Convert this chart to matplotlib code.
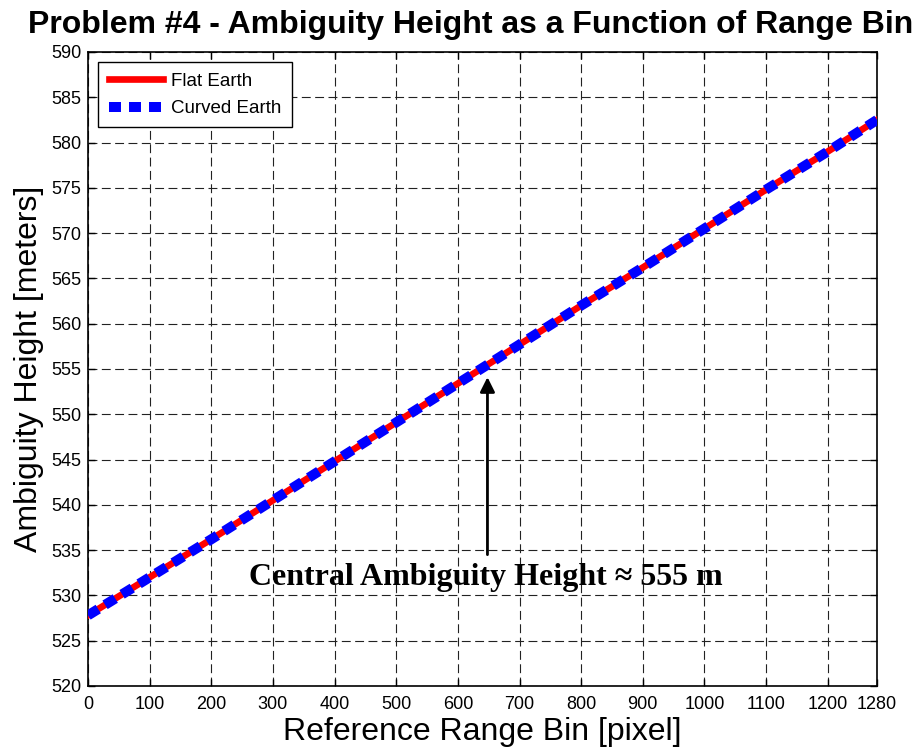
import numpy as np
import matplotlib
matplotlib.use('Agg')
import matplotlib.pyplot as plt

# values
range_bin = [0, 100, 200, 300, 400, 500, 600, 700, 800, 900, 1000, 1100, 1200, 1280]
flat_earth = [527.8, 532.0, 536.2, 540.5, 544.8, 549.1, 553.4, 557.7, 562.0, 566.2, 570.5, 574.8, 579.0, 582.5]
curved_earth = [527.8, 532.0, 536.2, 540.5, 544.8, 549.1, 553.4, 557.7, 562.0, 566.2, 570.5, 574.8, 579.0, 582.5]
x_ticks = [0, 100, 200, 300, 400, 500, 600, 700, 800, 900, 1000, 1100, 1200, 1280]
y_ticks = list(range(520, 591, 5))

central_bin = 648
central_height = 554.1
arrow_tail = 534.5
label_height = 531.1

plt.rcParams['font.family'] = ['Liberation Sans', 'DejaVu Sans']

fig = plt.figure(figsize=(9.19, 7.53), dpi=100)
ax = fig.add_axes([0.0958, 0.089, 0.8585, 0.842])

ax.plot(range_bin, flat_earth, color='red', lw=4.8, label='Flat Earth', zorder=3)
ax.plot(range_bin, curved_earth, color='blue', lw=7.2, linestyle=(0, (1.2, 0.8)),
        dash_capstyle='butt', label='Curved Earth', zorder=4)

ax.set_xlim(0, 1280)
ax.set_ylim(520, 590)
ax.set_xticks(x_ticks)
ax.set_yticks(y_ticks)
ax.tick_params(direction='in', top=True, right=True, labelsize=13, length=5, width=1)
ax.tick_params(axis='x', pad=7)
ax.tick_params(axis='y', pad=5)
ax.grid(True, color='#222222', linestyle=(0, (8, 4)), linewidth=0.8)
for s in ax.spines.values():
    s.set_linewidth(1.2)

ax.set_title('Problem #4 - Ambiguity Height as a Function of Range Bin',
             fontsize=23, fontweight='bold', pad=14, x=0.4854)
ax.set_xlabel('Reference Range Bin [pixel]', fontsize=23, labelpad=3)
ax.set_ylabel('Ambiguity Height [meters]', fontsize=23, labelpad=5)

ax.annotate('', xy=(central_bin, central_height), xytext=(central_bin, arrow_tail),
            arrowprops=dict(arrowstyle='-|>', color='black', lw=2.0,
                            mutation_scale=22, shrinkA=0, shrinkB=0))
ax.text(central_bin - 2, label_height, 'Central Ambiguity Height \u2248 555 m',
        ha='center', va='baseline', fontsize=23, fontweight='bold',
        family=['Liberation Serif', 'DejaVu Serif'], zorder=5)

leg = ax.legend(loc='upper left', fontsize=13.5, fancybox=False, framealpha=1,
                edgecolor='black', borderaxespad=0.55, handlelength=2.9,
                handletextpad=0.45, labelspacing=0.55, borderpad=0.55)
leg.get_frame().set_linewidth(1)

fig.savefig('out.png', dpi=100)
